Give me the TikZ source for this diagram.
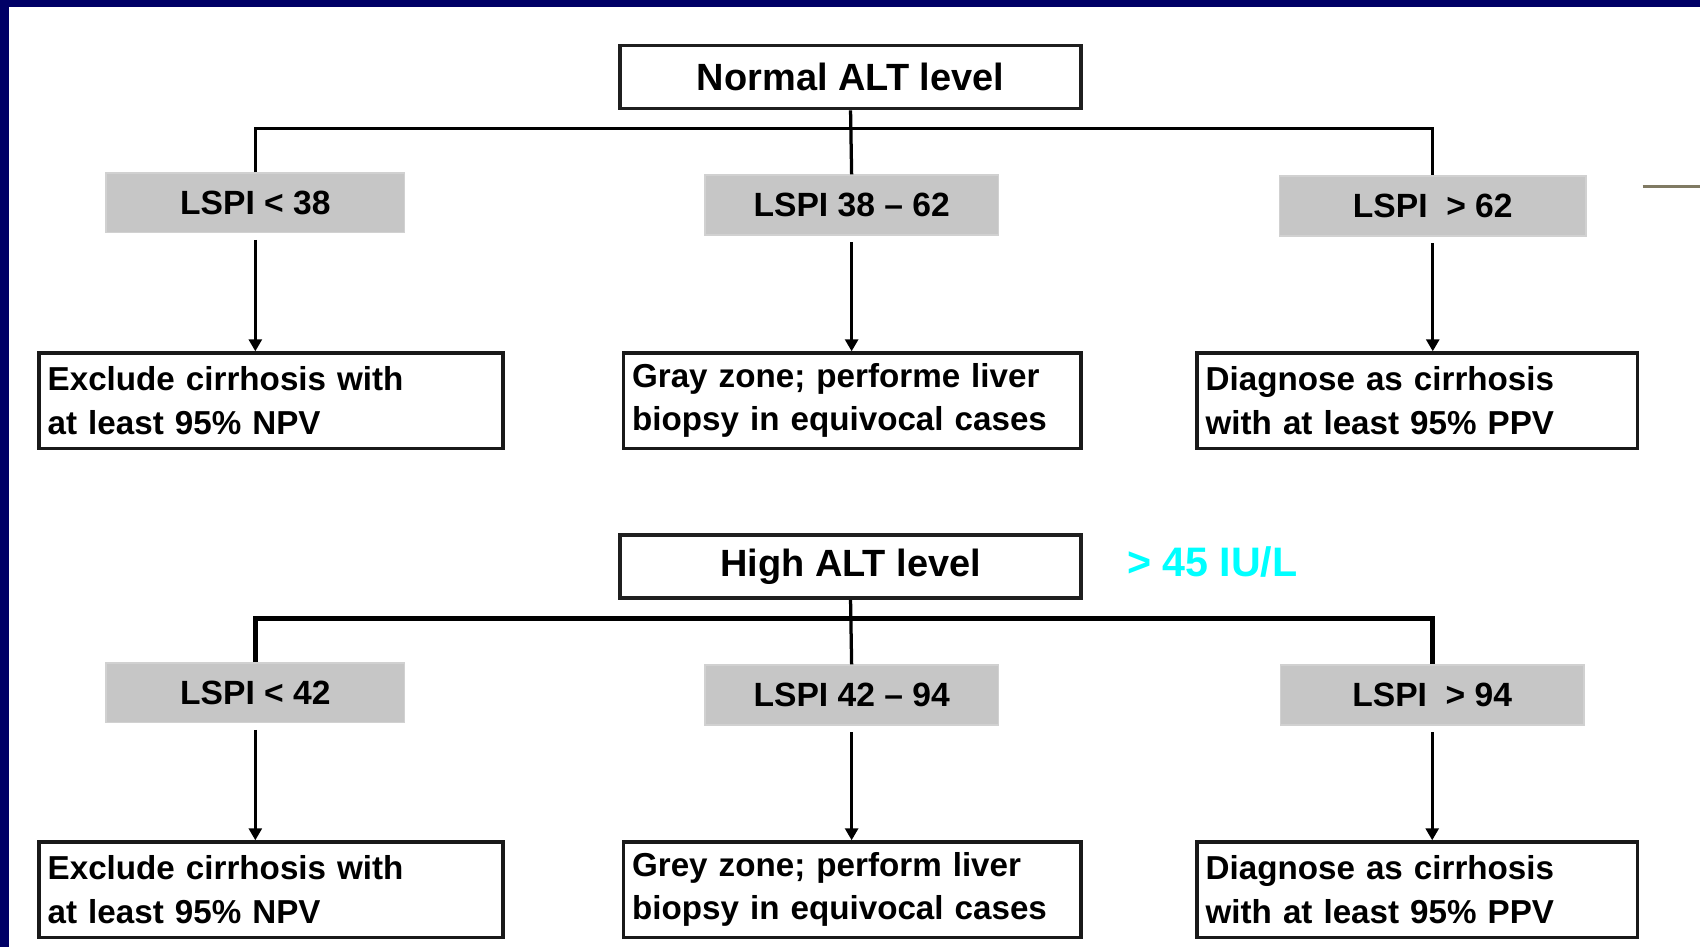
\documentclass[tikz,border=0pt]{standalone}
\usepackage{fontspec}
\setmainfont{Liberation Sans}
\usepackage{xcolor}
\usetikzlibrary{arrows.meta}
\definecolor{framenavy}{HTML}{000066}
\definecolor{lspigray}{HTML}{C6C6C6}
\definecolor{iucyan}{HTML}{00FFFF}
\definecolor{strayolive}{HTML}{807A63}

\begin{document}
\begin{tikzpicture}[x=1pt, y=-1pt,
  >={Triangle[length=11pt,width=12pt]},
  altbox/.style={draw=black!88, line width=3.5pt, fill=white, minimum width=425pt, minimum height=58pt, inner sep=0pt, font=\bfseries\fontsize{35}{40}\selectfont},
  lspibox/.style={fill=lspigray, draw=lspigray!80, line width=1.5pt, minimum height=55pt, inner sep=0pt, font=\bfseries\fontsize{31}{36}\selectfont},
  resbox/.style={draw=black!90, line width=3pt, minimum height=88pt, align=left, inner xsep=8pt, inner ysep=0pt, font=\bfseries\fontsize{30.6}{40}\selectfont},
  link/.style={line width=3pt},
  arrowlink/.style={line width=2.5pt, ->, shorten <=6pt}]


\useasboundingbox (0,0) rectangle (1568,873);
\fill[framenavy] (0,0) rectangle (1568,6);
\fill[framenavy] (0,0) rectangle (8,873);


\node[altbox] (nalt) at (784.5,71) {Normal ALT level};

\node[lspibox, minimum width=275pt] (n1) at (235.5,187) {LSPI < 38};
\node[lspibox, minimum width=271pt] (n2) at (785.5,189) {LSPI 38 – 62};
\node[lspibox, minimum width=283pt] (n3) at (1321.5,190) {LSPI \ > 62};

\node[resbox, minimum width=428pt, text width=412pt] (r1) at (250,369.5) {Exclude cirrhosis with\\at least 95\% NPV};
\node[resbox, minimum width=422pt, text width=406pt] (r2) at (786,369.5) {Gray zone; performe liver\\biopsy in equivocal cases};
\node[resbox, minimum width=406pt, text width=390pt] (r3) at (1307,369.5) {Diagnose as cirrhosis\\with at least 95\% PPV};

\coordinate (nbus) at ([yshift=-17pt]nalt.south);
\draw[link] (nalt.south) -- (n2.north);
\draw[link] (n1.north) |- (nbus) -| (n3.north);

\draw[arrowlink] (n1.south) -- (n1.south |- r1.north);
\draw[arrowlink] (n2.south) -- (n2.south |- r2.north);
\draw[arrowlink] (n3.south) -- (n3.south |- r3.north);

\coordinate (strayA) at (1515,172);
\coordinate (strayB) at (1568,172);
\draw[strayolive, line width=3pt] (strayA) -- (strayB);


\node[altbox] (halt) at (784.5,522.5) {High ALT level};
\node[text=iucyan, font=\bfseries\fontsize{38}{42}\selectfont, anchor=west] (iulabel) at (1036,518) {> 45 IU/L};

\node[lspibox, minimum width=275pt] (m1) at (235.5,639) {LSPI < 42};
\node[lspibox, minimum width=271pt] (m2) at (785.5,641) {LSPI 42 – 94};
\node[lspibox, minimum width=280pt] (m3) at (1321,641) {LSPI \ > 94};

\node[resbox, minimum width=428pt, text width=412pt] (s1) at (250,820.5) {Exclude cirrhosis with\\at least 95\% NPV};
\node[resbox, minimum width=422pt, text width=406pt] (s2) at (786,820.5) {Grey zone; perform liver\\biopsy in equivocal cases};
\node[resbox, minimum width=406pt, text width=390pt] (s3) at (1307,820.5) {Diagnose as cirrhosis\\with at least 95\% PPV};

\coordinate (hbus) at ([yshift=-17pt]halt.south);
\draw[link] (halt.south) -- (m2.north);
\draw[link, line width=4.5pt] (m1.north) |- (hbus) -| (m3.north);

\draw[arrowlink] (m1.south) -- (m1.south |- s1.north);
\draw[arrowlink] (m2.south) -- (m2.south |- s2.north);
\draw[arrowlink] (m3.south) -- (m3.south |- s3.north);

\end{tikzpicture}
\end{document}
